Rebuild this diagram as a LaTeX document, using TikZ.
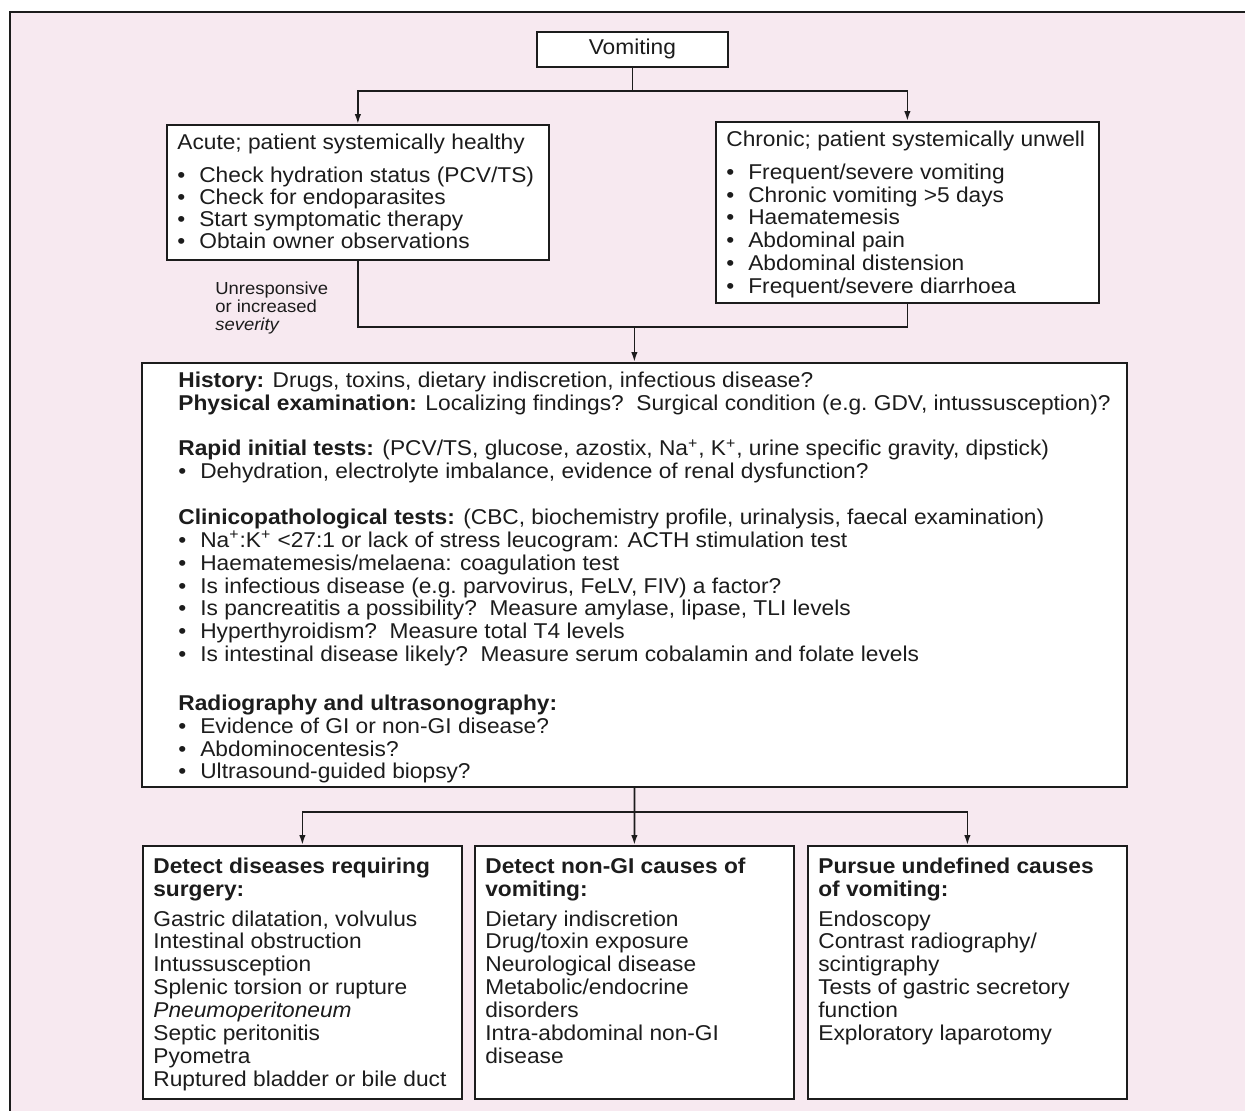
\documentclass[tikz,border=0pt]{standalone}
\usepackage{fontspec}
\setmainfont{Liberation Sans}[FakeStretch=1.06]
\usetikzlibrary{arrows.meta,positioning,calc}
\definecolor{vmPink}{RGB}{247,233,240}
\definecolor{vmInk} {RGB}{ 28, 28, 28}
\newcommand{\bul}{\makebox[4.4mm][l]{\textbullet}}

\begin{document}
\begin{tikzpicture}[x=0.2mm,y=-0.2mm,
  font=\fontsize{12.2}{13}\selectfont, text=vmInk,
  panel/.style={rectangle,draw=vmInk,line width=1pt,fill=white,
                anchor=north west,inner sep=0pt},
  body/.style={anchor=north west,align=left,inner sep=0pt},
  note/.style={anchor=north west,align=left,inner sep=0pt,
               font=\fontsize{9.9}{10.2}\selectfont},
  link/.style={draw=vmInk,line width=1pt},
  arr/.style={link,-{Latex[length=2mm,width=1.3mm]}}
]
\useasboundingbox (0,0) rectangle (1245,1111);
\fill[vmPink] (10,12) rectangle (1245,1111);
\draw[link] (10,1111) -- (10,12) -- (1245,12);

% --- presenting sign
\node[panel,anchor=north west,minimum width=38.2mm,minimum height=7mm] (vom) at (536,31) {Vomiting};

% --- acute / chronic
\node[panel,minimum width=76.4mm,minimum height=27mm] (acute) at (166,124) {};
\node[body,font=\fontsize{12.2}{12.6}\selectfont] (acuteT) at ([xshift=2.2mm,yshift=-2mm]acute.north west)
     {Acute; patient systemically healthy\\[5.8pt]
      \bul Check hydration status (PCV/TS)\\
      \bul Check for endoparasites\\
      \bul Start symptomatic therapy\\
      \bul Obtain owner observations};

\node[panel,minimum width=76.6mm,minimum height=36.2mm] (chron) at (715,121) {};
\node[body] (chronT) at ([xshift=2.2mm,yshift=-2mm]chron.north west)
     {Chronic; patient systemically unwell\\[5.4pt]
      \bul Frequent/severe vomiting\\
      \bul Chronic vomiting >5 days\\
      \bul Haematemesis\\
      \bul Abdominal pain\\
      \bul Abdominal distension\\
      \bul Frequent/severe diarrhoea};

\node[note] (resp) at ([xshift=9.8mm,yshift=-4.2mm]acute.south west)
     {Unresponsive\\or increased\\\textit{severity}};

% --- work-up
\node[panel,minimum width=197mm,minimum height=84.8mm] (main) at (141,362) {};
\node[body] (mainT) at ([xshift=7.4mm,yshift=-1.9mm]main.north west)
     {\textbf{History:} Drugs, toxins, dietary indiscretion, infectious disease?\\
      \textbf{Physical examination:} Localizing findings?\ \ Surgical condition (e.g.\ GDV, intussusception)?\\[13pt]
      \textbf{Rapid initial tests:} (PCV/TS, glucose, azostix, Na\textsuperscript{+}, K\textsuperscript{+}, urine specific gravity, dipstick)\\
      \bul Dehydration, electrolyte imbalance, evidence of renal dysfunction?\\[13pt]
      \textbf{Clinicopathological tests:} (CBC, biochemistry profile, urinalysis, faecal examination)\\
      \bul Na\textsuperscript{+}:K\textsuperscript{+} <27:1 or lack of stress leucogram: ACTH stimulation test\\
      \bul Haematemesis/melaena: coagulation test\\
      \bul Is infectious disease (e.g.\ parvovirus, FeLV, FIV) a factor?\\
      \bul Is pancreatitis a possibility?\ \ Measure amylase, lipase, TLI levels\\
      \bul Hyperthyroidism?\ \ Measure total T4 levels\\
      \bul Is intestinal disease likely?\ \ Measure serum cobalamin and folate levels\\[14.8pt]
      \textbf{Radiography and ultrasonography:}\\
      \bul Evidence of GI or non-GI disease?\\
      \bul Abdominocentesis?\\
      \bul Ultrasound-guided biopsy?};

% --- outcomes
\node[panel,minimum width=63.8mm,minimum height=50.6mm] (surg) at (142,845) {};
\node[body] (surgT) at ([xshift=2.2mm,yshift=-2.5mm]surg.north west)
     {\textbf{Detect diseases requiring}\\
      \textbf{surgery:}\\[4pt]
      Gastric dilatation, volvulus\\
      Intestinal obstruction\\
      Intussusception\\
      Splenic torsion or rupture\\
      \textit{Pneumoperitoneum}\\
      Septic peritonitis\\
      Pyometra\\
      Ruptured bladder or bile duct};

\node[panel,minimum width=63.8mm,minimum height=50.6mm] (nongi) at (474,845) {};
\node[body] (nongiT) at ([xshift=2.2mm,yshift=-2.5mm]nongi.north west)
     {\textbf{Detect non-GI causes of}\\
      \textbf{vomiting:}\\[4pt]
      Dietary indiscretion\\
      Drug/toxin exposure\\
      Neurological disease\\
      Metabolic/endocrine\\
      disorders\\
      Intra-abdominal non-GI\\
      disease};

\node[panel,minimum width=63.8mm,minimum height=50.6mm] (pursue) at (807,845) {};
\node[body] (pursueT) at ([xshift=2.2mm,yshift=-2.5mm]pursue.north west)
     {\textbf{Pursue undefined causes}\\
      \textbf{of vomiting:}\\[4pt]
      Endoscopy\\
      Contrast radiography/\\
      scintigraphy\\
      Tests of gastric secretory\\
      function\\
      Exploratory laparotomy};

% --- connectors
\draw[arr] (vom.south) -- ++(0,23) -| (acute.north);
\draw[arr] (vom.south) -- ++(0,23) -| (chron.north);
\coordinate (joinA) at ([yshift=7mm]main.north);
\draw[link] (acute.south) |- (joinA) -| (chron.south);
\draw[arr] (joinA) -- (main.north);
\coordinate (joinB) at ([yshift=-4.8mm]main.south);
\draw[arr] (main.south) -- (nongi.north);
\draw[arr] (joinB) -| (surg.north);
\draw[arr] (joinB) -| (pursue.north);
\end{tikzpicture}
\end{document}
